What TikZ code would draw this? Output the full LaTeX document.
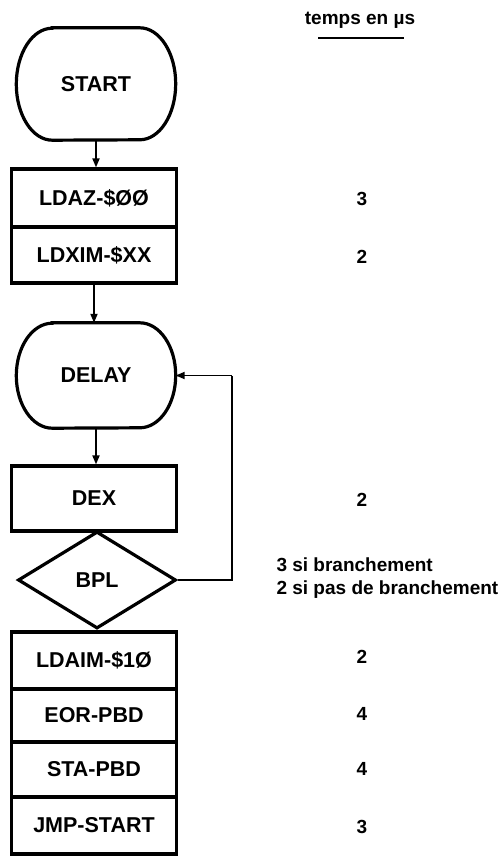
\documentclass[tikz,border=0pt]{standalone}
\usepackage{fontspec}
\setmainfont{Liberation Sans}
\usetikzlibrary{shapes.geometric,arrows.meta}
\begin{document}
\begin{tikzpicture}[x=1pt,y=1pt,
  lbl/.style={font=\bfseries\fontsize{21.5}{24}\selectfont},
  rtxt/.style={font=\bfseries\fontsize{19}{22}\selectfont},
  box/.style={lbl,draw,line width=3.2pt,minimum width=165pt,inner sep=0pt},
  term/.style={lbl,minimum width=159pt,inner sep=0pt},
  termline/.style={line width=3.2pt},
  dia/.style={lbl,draw,diamond,line width=3.2pt,minimum width=158pt,minimum height=97pt,inner sep=0pt},
  conn/.style={line width=1.8pt,-{Triangle[length=9pt,width=7pt]}},
  plain/.style={line width=1.8pt}]
\useasboundingbox (0,0) rectangle (499,-858);
\fill[white] (0,0) rectangle (499,-858);
% terminals
\node[term,minimum height=112pt] (start) at (96,-84) {START};
\draw[termline] ([xshift=36pt]start.north west) -- ([xshift=-36pt]start.north east)
  arc[start angle=90,end angle=-90,x radius=36pt,y radius=56pt]
  -- ([xshift=36pt]start.south west)
  arc[start angle=270,end angle=90,x radius=36pt,y radius=56pt] -- cycle;
\node[term,minimum height=105pt] (delay) at (96,-375.5) {DELAY};
\draw[termline] ([xshift=36pt]delay.north west) -- ([xshift=-36pt]delay.north east)
  arc[start angle=90,end angle=-90,x radius=36pt,y radius=52.5pt]
  -- ([xshift=36pt]delay.south west)
  arc[start angle=270,end angle=90,x radius=36pt,y radius=52.5pt] -- cycle;
% boxes
\node[box,minimum height=58pt] (ldaz) at (94,-198) {LDAZ-\$ØØ};
\node[box,minimum height=56pt] (ldxim) at (94,-255) {LDXIM-\$XX};
\node[box,minimum height=65pt] (dex) at (94,-498.5) {DEX};
\node[dia] (bpl) at (97,-580) {BPL};
\node[box,minimum height=57pt] (ldaim) at (94,-660.5) {LDAIM-\$1Ø};
\node[box,minimum height=53pt] (eor) at (94,-715.5) {EOR-PBD};
\node[box,minimum height=55pt] (sta) at (94,-769.5) {STA-PBD};
\node[box,minimum height=57pt] (jmp) at (94,-825.5) {JMP-START};
% connectors
\draw[conn] (start.south) -- (start.south |- ldaz.north);
\draw[conn] (ldxim.south) -- (ldxim.south |- delay.north);
\draw[conn] (delay.south) -- (delay.south |- dex.north);
\coordinate (loopc) at (232,-580);
\draw[plain] (bpl.east) -- (loopc) -- (loopc |- delay.east);
\draw[conn] (loopc |- delay.east) -- (delay.east);
% right column
\node[rtxt] (hdr) at (360,-20) {temps en µs};
\coordinate (ul1) at (318,-38);
\coordinate (ul2) at (404,-38);
\draw[line width=2pt] (ul1) -- (ul2);
\node[rtxt] (n1) at (362,-199) {3};
\node[rtxt] (n2) at (362,-257) {2};
\node[rtxt] (n3) at (362,-500) {2};
\node[rtxt,anchor=west] (n4) at (273,-565) {3 si branchement};
\node[rtxt,anchor=west] (n5) at (273,-590) {2 si pas de branchement};
\node[rtxt] (n6) at (362,-657) {2};
\node[rtxt] (n7) at (362,-714) {4};
\node[rtxt] (n8) at (362,-769) {4};
\node[rtxt] (n9) at (362,-827) {3};
\end{tikzpicture}
\end{document}
